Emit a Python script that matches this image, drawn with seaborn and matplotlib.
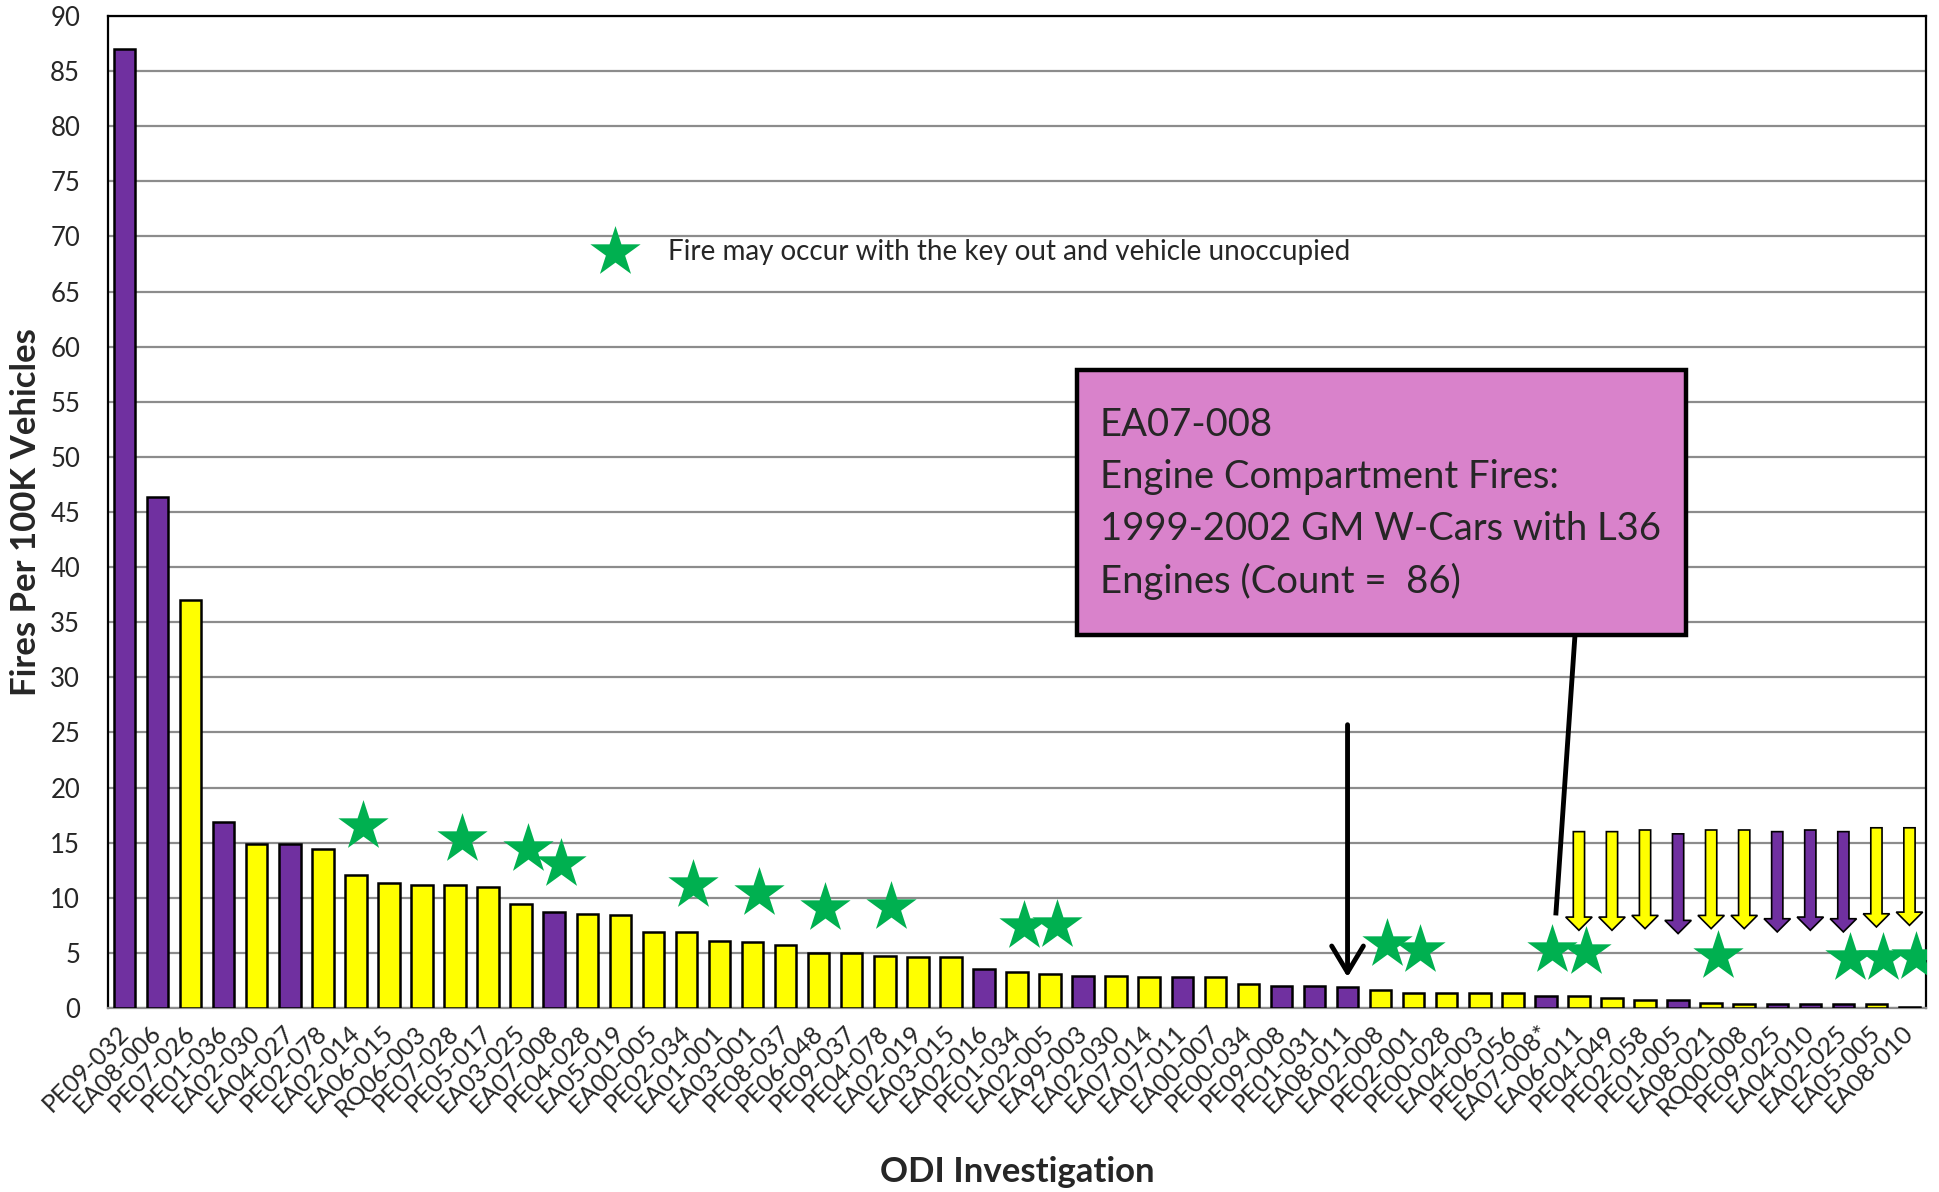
import numpy as np
import pandas as pd
import matplotlib
matplotlib.use("Agg")
import matplotlib.pyplot as plt
from matplotlib.patches import Rectangle
import seaborn as sns

# ---- data ----
investigations = [
    "PE09-032", "EA08-006", "PE07-026", "PE01-036", "EA02-030", "EA04-027", "PE02-078",
    "EA02-014", "EA06-015", "RQ06-003", "PE07-028", "PE05-017", "EA03-025", "EA07-008",
    "PE04-028", "EA05-019", "EA00-005", "PE02-034", "EA01-001", "EA03-001", "PE08-037",
    "PE06-048", "PE09-037", "PE04-078", "EA02-019", "EA03-015", "EA02-016", "PE01-034",
    "EA02-005", "EA99-003", "EA02-030", "EA07-014", "EA07-011", "EA00-007", "PE00-034",
    "PE09-008", "PE01-031", "EA08-011", "EA02-008", "PE02-001", "PE00-028", "EA04-003",
    "PE06-056", "EA07-008*", "EA06-011", "PE04-049", "PE02-058", "PE01-005", "EA08-021",
    "RQ00-008", "PE09-025", "EA04-010", "EA02-025", "EA05-005", "EA08-010",
]
fires_per_100k = [
    87.0, 46.4, 37.0, 16.9, 14.9, 14.9, 14.4,
    12.1, 11.3, 11.15, 11.15, 10.95, 9.4, 8.7,
    8.5, 8.4, 6.85, 6.85, 6.05, 5.95, 5.7,
    4.97, 4.97, 4.76, 4.64, 4.64, 3.52, 3.27,
    3.12, 2.9, 2.9, 2.79, 2.79, 2.79, 2.2,
    2.0, 2.0, 1.88, 1.6, 1.39, 1.39, 1.39,
    1.39, 1.06, 1.06, 0.9, 0.7, 0.7, 0.45,
    0.33, 0.33, 0.33, 0.33, 0.33, 0.1,
]
bar_group = [
    "purple", "purple", "yellow", "purple", "yellow", "purple", "yellow",
    "yellow", "yellow", "yellow", "yellow", "yellow", "yellow", "purple",
    "yellow", "yellow", "yellow", "yellow", "yellow", "yellow", "yellow",
    "yellow", "yellow", "yellow", "yellow", "yellow", "purple", "yellow",
    "yellow", "purple", "yellow", "yellow", "purple", "yellow", "yellow",
    "purple", "purple", "purple", "yellow", "yellow", "yellow", "yellow",
    "yellow", "purple", "yellow", "yellow", "yellow", "purple", "yellow",
    "yellow", "purple", "purple", "purple", "yellow", "yellow",
]

# stars: "fire may occur with the key out and vehicle unoccupied"
star_bars = [7, 10, 12, 13, 17, 19, 21, 23, 27, 28, 38, 39, 43, 44, 48, 52, 53, 54]
star_heights = [16.5, 15.3, 14.4, 13.1, 11.2, 10.4, 9.1, 9.2, 7.4, 7.5,
                5.8, 5.3, 5.3, 5.1, 4.7, 4.5, 4.5, 4.6]

# down arrows over the smallest bars
arrow_bars = [44, 45, 46, 47, 48, 49, 50, 51, 52, 53, 54]
arrow_tops = [16.0, 16.0, 16.15, 15.8, 16.15, 16.15, 16.0, 16.15, 16.0, 16.35, 16.35]
arrow_tips = [7.05, 7.05, 7.2, 6.75, 7.2, 7.2, 6.9, 7.05, 6.9, 7.35, 7.5]

callout_lines = ["EA07-008", "Engine Compartment Fires:",
                 "1999-2002 GM W-Cars with L36", "Engines (Count =  86)"]

PURPLE = "#7030A0"
YELLOW = "#FFFF00"
GREEN = "#00B050"
palette = {"purple": PURPLE, "yellow": YELLOW}

df = pd.DataFrame({"pos": np.arange(len(investigations)),
                   "rate": fires_per_100k,
                   "group": bar_group})

sns.set_theme(style="white")
plt.rcParams["font.family"] = ["Lato", "DejaVu Sans"]

fig = plt.figure(figsize=(19.4, 11.92), dpi=100)
ax = fig.add_axes([108 / 1940, 1 - 1008 / 1192, (1926 - 108) / 1940, (1008 - 16) / 1192])

sns.barplot(data=df, x="pos", y="rate", hue="group", palette=palette, dodge=False,
            saturation=1, width=0.65, edgecolor="black", linewidth=1.8,
            legend=False, ax=ax, zorder=3)

ax.set_xlim(-0.5, len(investigations) - 0.5)
ax.set_ylim(0, 90)
ax.set_yticks(np.arange(0, 91, 5))
ax.yaxis.grid(True, color="#8c8c8c", lw=1.6)
ax.set_axisbelow(True)

ax.set_xticks(df["pos"])
ax.set_xticklabels(investigations, rotation=45, ha="right", va="center",
                   rotation_mode="anchor", fontsize=18)
ax.tick_params(axis="x", length=0, pad=15)
ax.tick_params(axis="y", length=0, pad=20, labelsize=18.5)

for side in ["top", "left", "right"]:
    ax.spines[side].set_color("black")
    ax.spines[side].set_linewidth(1.6)
ax.spines["bottom"].set_color("#8c8c8c")
ax.spines["bottom"].set_linewidth(1.6)

ax.set_xlabel("ODI Investigation", fontsize=25, fontweight="bold")
ax.set_ylabel("Fires Per 100K Vehicles", fontsize=25, fontweight="bold")
ax.xaxis.set_label_coords(0.5, -0.165)
ax.xaxis.label.set_va("center")
ax.yaxis.set_label_coords(-0.045, 0.5)
ax.yaxis.label.set_va("center")

# stars
ax.scatter(np.array(star_bars) + 0.2, star_heights, marker="*", s=1450,
           color=GREEN, linewidths=0, zorder=6)

# legend star + text
ax.scatter([14.84], [68.6], marker="*", s=1450, color=GREEN, linewidths=0, zorder=6)
ax.text(16.44, 68.6, "Fire may occur with the key out and vehicle unoccupied",
        fontsize=20, va="center", ha="left", zorder=6)

# down arrows over the small bars
for b, top, tip in zip(arrow_bars, arrow_tops, arrow_tips):
    ax.arrow(b, top, 0, tip - top, width=0.34, head_width=0.8, head_length=1.2,
             length_includes_head=True, fc=palette[bar_group[b]], ec="black",
             lw=1.2, zorder=7)

# black arrow pointing at EA08-011
ax.annotate("", xy=(37, 2.8), xytext=(37, 25.7),
            arrowprops=dict(arrowstyle="->,head_length=0.5,head_width=0.3",
                            lw=3.5, color="black", mutation_scale=38,
                            shrinkA=0, shrinkB=0), zorder=8)

# callout box and leader line
ax.plot([43.3, 43.88], [8.4, 33.8], color="black", lw=3.5, zorder=8,
        solid_capstyle="butt")
ax.add_patch(Rectangle((28.82, 33.8), 18.43, 24.1, facecolor="#D982CB",
                       edgecolor="black", lw=3.2, zorder=9))
for k, line in enumerate(callout_lines):
    ax.text(29.5, 52.9 - k * 4.73, line, fontsize=27.5, va="center", ha="left",
            zorder=10)

fig.savefig("out.png", dpi=100)
